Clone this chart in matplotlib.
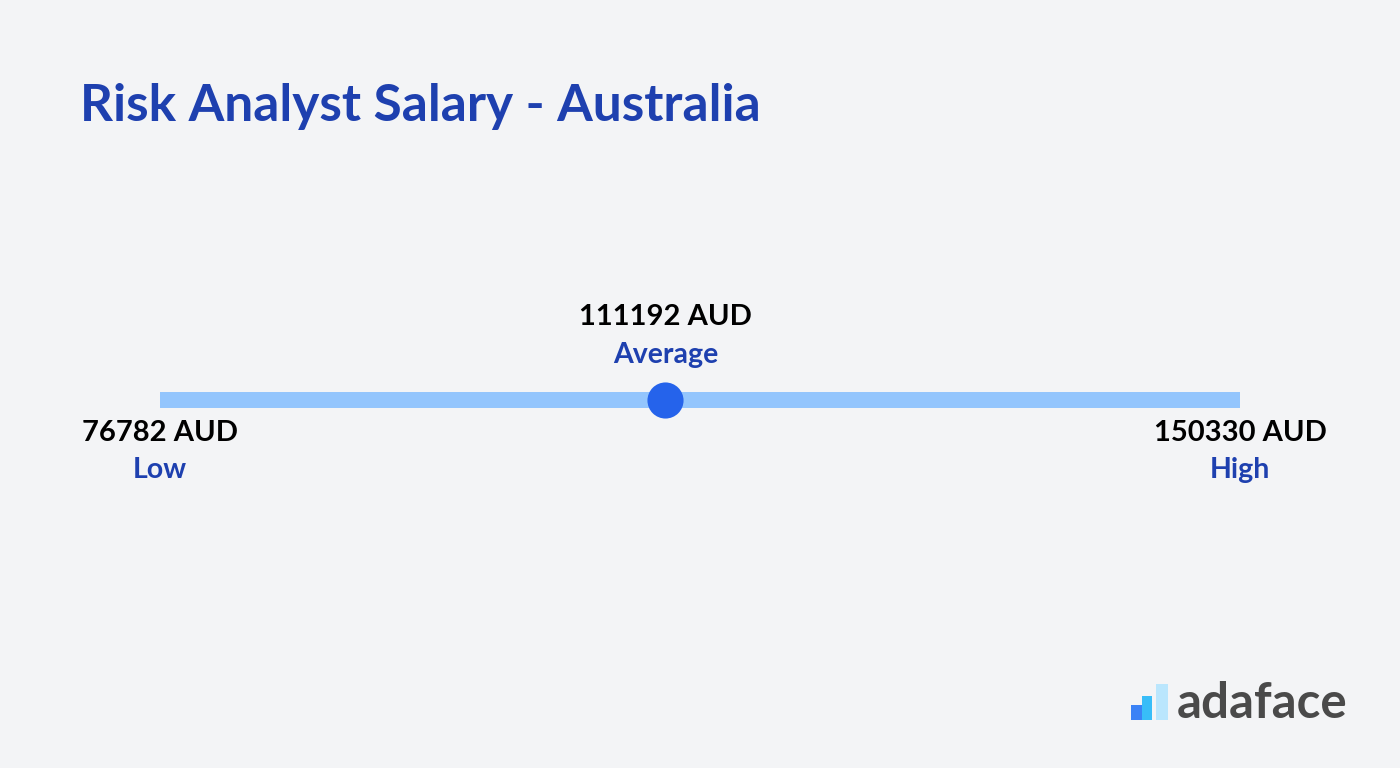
import matplotlib
matplotlib.use("Agg")
import matplotlib.pyplot as plt
from matplotlib.patches import Rectangle

title = "Risk Analyst Salary - Australia"
labels = ["Low", "Average", "High"]
values = [76782, 111192, 150330]
currency = "AUD"

W, H = 1400, 768
fig = plt.figure(figsize=(W / 100, H / 100), dpi=100)
bg = "#f3f4f6"
fig.patch.set_facecolor(bg)
ax = fig.add_axes([0, 0, 1, 1])
ax.set_facecolor(bg)
ax.axis("off")

# map salary range so that low->160px, high->1240px
lo, hi = values[0], values[-1]
per_px = (hi - lo) / 1080.0
ax.set_xlim(lo - 160 * per_px, hi + 160 * per_px)
ax.set_ylim(H, 0)

font = "Lato"
dark_blue = "#1e40af"

ax.plot([lo, hi], [400, 400], color="#93c5fd", linewidth=11.5, solid_capstyle="butt", zorder=1)
ax.plot([values[1]], [400], marker="o", markersize=26, color="#2563eb", markeredgewidth=0, zorder=2)

# value labels
for v, lab in zip(values, labels):
    if lab == "Average":
        y_val, y_lab = 317, 355
    else:
        y_val, y_lab = 433, 470
    ax.text(v, y_val, f"{v} {currency}", ha="center", va="center", fontsize=21,
            fontweight="bold", color="#000000", family=font)
    ax.text(v, y_lab, lab, ha="center", va="center", fontsize=20.5,
            fontweight="bold", color=dark_blue, family=font)

fig.text(80 / W, 1 - 106 / H, title, ha="left", va="center", fontsize=37,
         fontweight="bold", color=dark_blue, family=font)

# logo
lax = fig.add_axes([0, 0, 1, 1])
lax.set_xlim(0, W)
lax.set_ylim(H, 0)
lax.axis("off")
lax.patch.set_alpha(0)
lax.add_patch(Rectangle((1131, 705), 11, 15, color="#3b82f6", lw=0))
lax.add_patch(Rectangle((1142, 696), 10, 24, color="#38bdf8", lw=0))
lax.add_patch(Rectangle((1156, 684), 12, 36, color="#bae6fd", lw=0))
lax.text(1177, 703, "adaface", ha="left", va="center", fontsize=35.5,
         fontweight="bold", color="#4a4a4a", family=font)

fig.savefig("out.png", dpi=100, facecolor=bg)
